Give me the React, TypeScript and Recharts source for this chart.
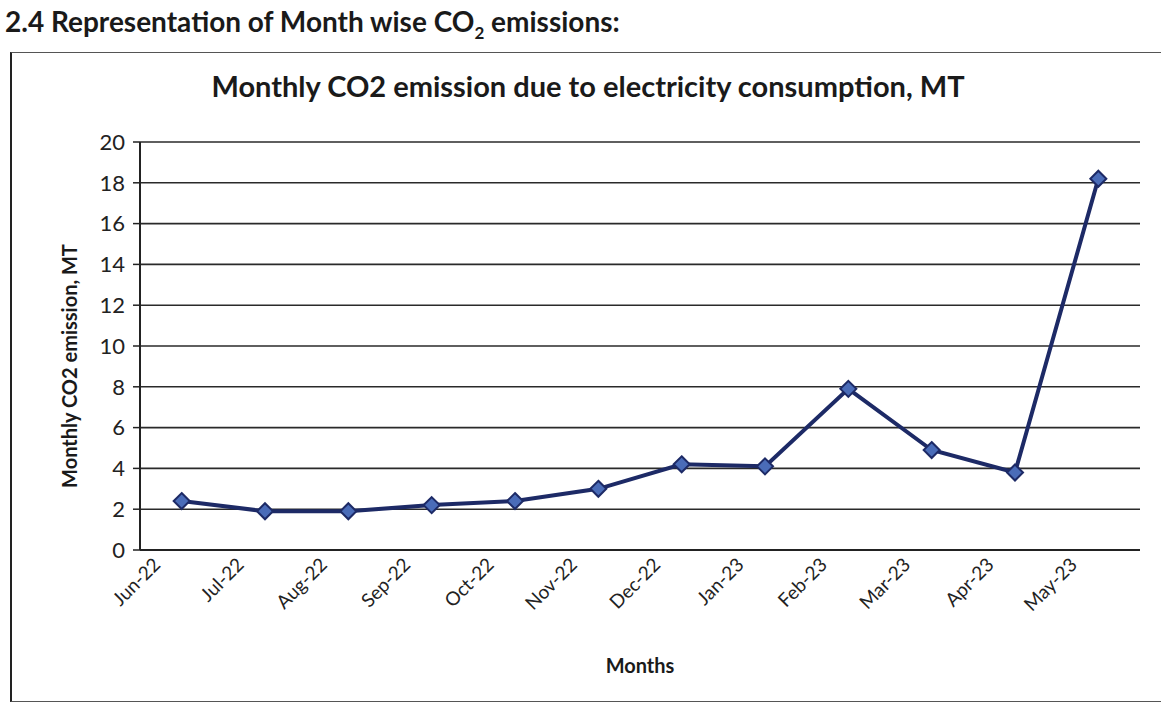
import { CartesianGrid, Line, LineChart, XAxis, YAxis } from 'recharts';

const months = ['Jun-22', 'Jul-22', 'Aug-22', 'Sep-22', 'Oct-22', 'Nov-22', 'Dec-22', 'Jan-23', 'Feb-23', 'Mar-23', 'Apr-23', 'May-23'];
const emissions = [2.4, 1.9, 1.9, 2.2, 2.4, 3.0, 4.2, 4.1, 7.9, 4.9, 3.8, 18.2];
const yTicks = [0, 2, 4, 6, 8, 10, 12, 14, 16, 18, 20];

const data = months.map((m, i) => ({ month: m, co2: emissions[i] }));

const FONT = 'Lato, "Open Sans", sans-serif';

const Diamond = (props: any) => {
  const { cx, cy, index } = props;
  if (cx == null || cy == null) return null;
  const r = 8;
  return (
    <path
      key={`d-${index}`}
      d={`M${cx},${cy - r} L${cx + r},${cy} L${cx},${cy + r} L${cx - r},${cy} Z`}
      fill="#4a6cb8"
      stroke="#1d2a66"
      strokeWidth={2}
    />
  );
};

const MonthTick = (props: any) => {
  const { x, y, payload } = props;
  const tx = x - 20;
  const ty = y + 8;
  return (
    <text
      x={tx}
      y={ty}
      transform={`rotate(-45, ${tx}, ${ty})`}
      textAnchor="end"
      fontSize={19}
      fontFamily={FONT}
      fill="#222"
    >
      {payload.value}
    </text>
  );
};

export default function App() {
  return (
    <div style={{ position: 'absolute', left: 0, top: 0, width: 1161, height: 715, background: '#fff', overflow: 'hidden', fontFamily: FONT }}>
      <div style={{ position: 'absolute', left: 5, top: 4, fontSize: 28, fontWeight: 700, color: '#1a1a1a', whiteSpace: 'nowrap' }}>
        2.4 Representation of Month wise CO<sub style={{ fontSize: 17 }}>2</sub> emissions:
      </div>
      <div style={{ position: 'absolute', left: 10, top: 52, width: 1170, height: 648, borderLeft: '2px solid #222', borderTop: '1.5px solid #555', borderBottom: '1.5px solid #555' }} />
      <div style={{ position: 'absolute', left: 88, width: 1000, top: 68, textAlign: 'center', fontSize: 29, fontWeight: 700, color: '#1a1a1a', whiteSpace: 'nowrap' }}>
        Monthly CO2 emission due to electricity consumption, MT
      </div>
      <LineChart
        width={1161}
        height={715}
        data={data}
        margin={{ top: 142, right: 21, bottom: 0, left: 40 }}
        style={{ position: 'absolute', left: 0, top: 0 }}
      >
        <CartesianGrid horizontal vertical={false} stroke="#2a2a2a" strokeWidth={1.6} />
        <XAxis
          dataKey="month"
          scale="band"
          interval={0}
          tick={<MonthTick />}
          tickLine={false}
          axisLine={{ stroke: '#222', strokeWidth: 2 }}
          height={165}
          label={{ value: 'Months', position: 'insideBottom', offset: 42, style: { fontSize: 20, fontWeight: 700, fontFamily: FONT, fill: '#1a1a1a' } }}
        />
        <YAxis
          domain={[0, 20]}
          ticks={yTicks}
          interval={0}
          width={100}
          tickSize={7}
          tickMargin={8}
          tick={{ fontSize: 22, fontFamily: FONT, fill: '#222' }}
          tickLine={{ stroke: '#222', strokeWidth: 1.5 }}
          axisLine={{ stroke: '#222', strokeWidth: 2 }}
          label={{ value: 'Monthly CO2 emission, MT', angle: -90, position: 'insideLeft', offset: 30, dy: 20, style: { textAnchor: 'middle', fontSize: 20, fontWeight: 700, fontFamily: FONT, fill: '#1a1a1a' } }}
        />
        <Line
          type="linear"
          dataKey="co2"
          stroke="#1d2a66"
          strokeWidth={4}
          dot={<Diamond />}
          activeDot={false}
          isAnimationActive={false}
        />
      </LineChart>
    </div>
  );
}
